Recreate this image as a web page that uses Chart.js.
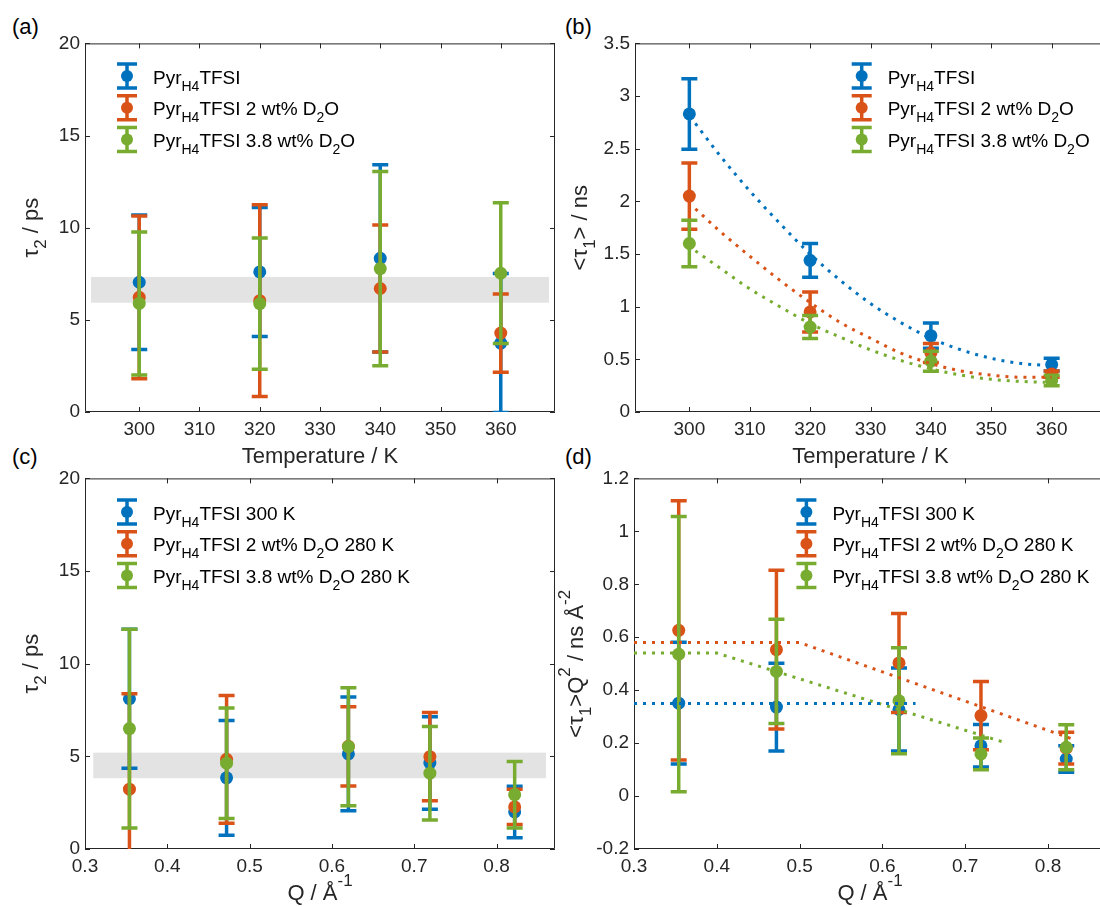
<!DOCTYPE html>
<html>
<head>
<meta charset="utf-8">
<script src="https://cdn.jsdelivr.net/npm/chart.js@4/dist/chart.umd.min.js"></script>
<style>
  body { margin: 0; background: #fff; width: 1100px; height: 907px; overflow: hidden; position: relative; }
  canvas { position: absolute; }
  .tag { position: absolute; font: 22px "Liberation Sans", Arial, sans-serif; line-height: 1; color: #000; }
</style>
</head>
<body>
<div class="tag" style="left:12px; top:16px">(a)</div>
<div class="tag" style="left:565px; top:16px">(b)</div>
<div class="tag" style="left:12px; top:446px">(c)</div>
<div class="tag" style="left:565px; top:446px">(d)</div>
<canvas id="pa"></canvas>
<canvas id="pb"></canvas>
<canvas id="pc"></canvas>
<canvas id="pd"></canvas>
<script>
// --- data ---
const tempK = [300, 320, 340, 360];
const qVals = [0.354, 0.472, 0.620, 0.719, 0.822];

const namesT = ['Pyr_{H4}TFSI', 'Pyr_{H4}TFSI 2 wt% D_{2}O', 'Pyr_{H4}TFSI 3.8 wt% D_{2}O'];
const namesQ = ['Pyr_{H4}TFSI 300 K', 'Pyr_{H4}TFSI 2 wt% D_{2}O 280 K', 'Pyr_{H4}TFSI 3.8 wt% D_{2}O 280 K'];

// (a) tau2 vs temperature
const tau2T_neat = [7.04, 7.60, 8.34, 3.74];
const tau2T_neatErr = [3.65, 3.5, 5.08, 3.77];
const tau2T_2wt = [6.22, 6.04, 6.70, 4.28];
const tau2T_2wtErr = [4.42, 5.2, 3.45, 2.12];
const tau2T_38wt = [5.89, 5.88, 7.78, 7.53];
const tau2T_38wtErr = [3.88, 3.56, 5.27, 3.82];
const bandA = [292, 368, 5.93, 7.33];

// (b) <tau1> vs temperature
const tau1T_neat = [2.83, 1.44, 0.725, 0.45];
const tau1T_neatErr = [0.335, 0.16, 0.12, 0.06];
const tau1T_2wt = [2.05, 0.95, 0.56, 0.36];
const tau1T_2wtErr = [0.315, 0.19, 0.09, 0.03];
const tau1T_38wt = [1.60, 0.807, 0.483, 0.30];
const tau1T_38wtErr = [0.22, 0.11, 0.095, 0.05];
const fitT = [301, 305, 310, 315, 320, 325, 330, 335, 340, 345, 350, 355, 360];
const fitT_neat = [2.74, 2.44, 2.10, 1.79, 1.50, 1.25, 1.03, 0.85, 0.70, 0.59, 0.51, 0.46, 0.44];
const fitT_2wt = [1.93, 1.72, 1.48, 1.25, 1.04, 0.85, 0.70, 0.56, 0.46, 0.39, 0.35, 0.33, 0.33];
const fitT_38wt = [1.53, 1.37, 1.17, 1.00, 0.84, 0.71, 0.59, 0.49, 0.41, 0.35, 0.31, 0.29, 0.28];

// (c) tau2 vs Q
const tau2Q_neat = [8.11, 3.84, 5.13, 4.64, 2.00];
const tau2Q_neatErr = [3.75, 3.1, 3.07, 2.5, 1.39];
const tau2Q_2wt = [3.23, 4.84, 5.54, 4.98, 2.27];
const tau2Q_2wtErr = [5.15, 3.45, 2.14, 2.38, 0.95];
const tau2Q_38wt = [6.50, 4.63, 5.52, 4.09, 2.93];
const tau2Q_38wtErr = [5.36, 2.98, 3.18, 2.52, 1.79];
const bandC = [0.31, 0.86, 3.82, 5.20];

// (d) <tau1>Q^2 vs Q
const tau1Q2_neat = [0.351, 0.336, 0.327, 0.19, 0.14];
const tau1Q2_neatErr = [0.23, 0.166, 0.157, 0.08, 0.05];
const tau1Q2_2wt = [0.626, 0.553, 0.503, 0.304, 0.181];
const tau1Q2_2wtErr = [0.49, 0.30, 0.187, 0.129, 0.06];
const tau1Q2_38wt = [0.536, 0.471, 0.36, 0.159, 0.184];
const tau1Q2_38wtErr = [0.52, 0.197, 0.2, 0.06, 0.085];
const fitQ_neatX = [0.3, 0.64], fitQ_neat = [0.35, 0.35];
const fitQ_2wtX = [0.3, 0.5, 0.83], fitQ_2wt = [0.58, 0.58, 0.215];
const fitQ_38wtX = [0.3, 0.4, 0.75], fitQ_38wt = [0.54, 0.54, 0.20];

// tick values
const ticksT = [300, 310, 320, 330, 340, 350, 360];
const ticksQ = [0.3, 0.4, 0.5, 0.6, 0.7, 0.8];
const ticksTau2 = [0, 5, 10, 15, 20];
const ticksTau1 = [0, 0.5, 1, 1.5, 2, 2.5, 3, 3.5];
const ticksTau1Q2 = [-0.2, 0, 0.2, 0.4, 0.6, 0.8, 1, 1.2];

const colors = ['#0072BD', '#D95319', '#77AC30'];
const FONT = '"Liberation Sans", Arial, sans-serif';
const INK = '#262626';

// --- helpers ---
function pts(xs, ys) { return xs.map((x, i) => ({ x: x, y: ys[i] })); }

function parseRich(str) {
    const segs = [];
    const re = /([_^])\{([^}]*)\}|([^_^]+)/g;
    let m;
    while ((m = re.exec(str))) {
        if (m[3]) segs.push({ t: m[3], k: 0 });
        else segs.push({ t: m[2], k: m[1] === '_' ? 1 : -1 });
    }
    return segs;
}

function drawRich(ctx, str, x, y, size, align) {
    const segs = parseRich(str);
    const small = Math.round(size * 0.76);
    let w = 0;
    segs.forEach(s => {
        ctx.font = (s.k ? small : size) + 'px ' + FONT;
        s.w = ctx.measureText(s.t).width;
        w += s.w;
    });
    let cx = align === 'center' ? x - w / 2 : x;
    ctx.textAlign = 'left';
    ctx.textBaseline = 'alphabetic';
    segs.forEach(s => {
        ctx.font = (s.k ? small : size) + 'px ' + FONT;
        const dy = s.k === 1 ? size * 0.38 : (s.k === -1 ? -size * 0.6 : 0);
        ctx.fillText(s.t, cx, y + dy);
        cx += s.w;
    });
}

function errSet(xs, ys, errs, i, order) {
    return {
        label: 's' + i,
        data: pts(xs, ys),
        errors: errs,
        backgroundColor: colors[i],
        borderColor: colors[i],
        pointRadius: 6.5,
        pointHoverRadius: 6.5,
        pointBorderWidth: 0,
        showLine: false,
        order: order
    };
}

function fitSet(xs, ys, i, smooth) {
    return {
        type: 'line',
        data: pts(xs, ys),
        borderColor: colors[i],
        borderWidth: 3,
        borderDash: [3, 6],
        pointRadius: 0,
        fill: false,
        cubicInterpolationMode: smooth ? 'monotone' : 'default',
        tension: 0,
        order: 0
    };
}

const errorBars = {
    id: 'errorBars',
    beforeDatasetDraw(chart, args) {
        const ds = chart.data.datasets[args.index];
        if (!ds.errors) return;
        const ctx = chart.ctx, a = chart.chartArea;
        const xs = chart.scales.x, ys = chart.scales.y;
        ctx.save();
        ctx.beginPath();
        ctx.rect(a.left, a.top, a.width, a.height);
        ctx.clip();
        ctx.strokeStyle = ds.borderColor;
        ctx.lineWidth = 3.5;
        ds.data.forEach((p, i) => {
            const e = ds.errors[i];
            const x = xs.getPixelForValue(p.x);
            const y0 = ys.getPixelForValue(p.y - e), y1 = ys.getPixelForValue(p.y + e);
            ctx.beginPath();
            ctx.moveTo(x, y0); ctx.lineTo(x, y1);
            ctx.moveTo(x - 8, y0); ctx.lineTo(x + 8, y0);
            ctx.moveTo(x - 8, y1); ctx.lineTo(x + 8, y1);
            ctx.stroke();
        });
        ctx.restore();
    }
};

const frame = {
    id: 'frame',
    beforeDatasetsDraw(chart, args, opts) {
        const ctx = chart.ctx, a = chart.chartArea;
        const xs = chart.scales.x, ys = chart.scales.y;
        ctx.save();
        if (opts.band) {
            const b = opts.band;
            const x0 = xs.getPixelForValue(b[0]), x1 = xs.getPixelForValue(b[1]);
            const y0 = ys.getPixelForValue(b[2]), y1 = ys.getPixelForValue(b[3]);
            ctx.fillStyle = '#e3e3e3';
            ctx.fillRect(x0, y1, x1 - x0, y0 - y1);
        }
        ctx.strokeStyle = INK;
        ctx.lineWidth = 1;
        ctx.beginPath();
        ctx.rect(a.left + 0.5, a.top + 0.5, a.width - 1, a.height - 1);
        xs.ticks.forEach(t => {
            const x = Math.round(xs.getPixelForValue(t.value)) + 0.5;
            ctx.moveTo(x, a.bottom); ctx.lineTo(x, a.bottom - 5);
            ctx.moveTo(x, a.top); ctx.lineTo(x, a.top + 5);
        });
        ys.ticks.forEach(t => {
            const y = Math.round(ys.getPixelForValue(t.value)) + 0.5;
            ctx.moveTo(a.left, y); ctx.lineTo(a.left + 5, y);
            ctx.moveTo(a.right, y); ctx.lineTo(a.right - 5, y);
        });
        ctx.stroke();
        ctx.restore();
    },
    afterDraw(chart, args, opts) {
        const ctx = chart.ctx, a = chart.chartArea;
        ctx.save();
        ctx.fillStyle = INK;
        drawRich(ctx, opts.xTitle, (a.left + a.right) / 2, a.bottom + 50.5, 22, 'center');
        ctx.save();
        ctx.translate(a.left - opts.yOff, (a.top + a.bottom) / 2);
        ctx.rotate(-Math.PI / 2);
        drawRich(ctx, opts.yTitle, 0, 0, 22, 'center');
        ctx.restore();
        // legend
        const lg = opts.legend;
        lg.names.forEach((n, i) => {
            const cx = a.left + lg.x, cy = a.top + lg.y + i * 31.7;
            ctx.strokeStyle = colors[i];
            ctx.fillStyle = colors[i];
            ctx.lineWidth = 3.5;
            ctx.beginPath();
            ctx.moveTo(cx, cy - 12); ctx.lineTo(cx, cy + 12);
            ctx.moveTo(cx - 10, cy - 12); ctx.lineTo(cx + 10, cy - 12);
            ctx.moveTo(cx - 10, cy + 12); ctx.lineTo(cx + 10, cy + 12);
            ctx.stroke();
            ctx.beginPath();
            ctx.arc(cx, cy, 6, 0, Math.PI * 2);
            ctx.fill();
            ctx.fillStyle = '#000';
            drawRich(ctx, n, cx + 26, cy + 7.5, 19, 'left');
        });
        ctx.restore();
    }
};

function makePanel(id, box, p) {
    const cv = document.getElementById(id);
    const W = box.r - box.l + 90, H = box.b - box.t + 76;
    cv.width = W; cv.height = H;
    cv.style.width = W + 'px'; cv.style.height = H + 'px';
    cv.style.left = (box.l - 80) + 'px';
    cv.style.top = (box.t - 14) + 'px';
    const tickFont = { family: FONT, size: 19 };
    new Chart(cv, {
        type: 'scatter',
        data: { datasets: p.datasets },
        options: {
            responsive: false,
            animation: false,
            events: [],
            layout: { padding: { top: 14, right: 10, left: 0, bottom: 0 } },
            plugins: {
                legend: { display: false },
                tooltip: { enabled: false },
                frame: { band: p.band, xTitle: p.xTitle, yTitle: p.yTitle, yOff: p.yOff, legend: p.legend }
            },
            scales: {
                x: {
                    type: 'linear', min: p.xMin, max: p.xMax,
                    afterFit: s => { s.height = 62; },
                    afterBuildTicks: s => { s.ticks = p.xTicks.map(v => ({ value: v })); },
                    grid: { display: false, drawTicks: false },
                    border: { display: false },
                    ticks: { padding: 6, font: tickFont, color: INK, maxRotation: 0, autoSkip: false, callback: v => String(v) }
                },
                y: {
                    type: 'linear', min: p.yMin, max: p.yMax,
                    afterFit: s => { s.width = 80; },
                    afterBuildTicks: s => { s.ticks = p.yTicks.map(v => ({ value: v })); },
                    grid: { display: false, drawTicks: false },
                    border: { display: false },
                    ticks: { padding: 5, font: tickFont, color: INK, autoSkip: false, callback: v => String(v) }
                }
            }
        },
        plugins: [errorBars, frame]
    });
}

makePanel('pa', { l: 85, t: 41, r: 555, b: 412 }, {
    xMin: 291, xMax: 369, yMin: 0, yMax: 20, xTicks: ticksT, yTicks: ticksTau2,
    band: bandA, xTitle: 'Temperature / K', yTitle: '\u03c4_{2} / ps', yOff: 47,
    legend: { x: 42, y: 32.6, names: namesT },
    datasets: [
        errSet(tempK, tau2T_38wt, tau2T_38wtErr, 2, 1),
        errSet(tempK, tau2T_2wt, tau2T_2wtErr, 1, 2),
        errSet(tempK, tau2T_neat, tau2T_neatErr, 0, 3)
    ]
});

makePanel('pb', { l: 635, t: 41, r: 1106, b: 412 }, {
    xMin: 291, xMax: 369, yMin: 0, yMax: 3.5, xTicks: ticksT, yTicks: ticksTau1,
    xTitle: 'Temperature / K', yTitle: '<\u03c4_{1}> / ns', yOff: 48,
    legend: { x: 226.7, y: 32.6, names: namesT },
    datasets: [
        fitSet(fitT, fitT_neat, 0, true),
        fitSet(fitT, fitT_2wt, 1, true),
        fitSet(fitT, fitT_38wt, 2, true),
        errSet(tempK, tau1T_38wt, tau1T_38wtErr, 2, 1),
        errSet(tempK, tau1T_2wt, tau1T_2wtErr, 1, 2),
        errSet(tempK, tau1T_neat, tau1T_neatErr, 0, 3)
    ]
});

makePanel('pc', { l: 85, t: 476, r: 555, b: 849 }, {
    xMin: 0.3, xMax: 0.871, yMin: 0, yMax: 20, xTicks: ticksQ, yTicks: ticksTau2,
    band: bandC, xTitle: 'Q / \u00c5^{-1}', yTitle: '\u03c4_{2} / ps', yOff: 47,
    legend: { x: 42, y: 33.6, names: namesQ },
    datasets: [
        errSet(qVals, tau2Q_38wt, tau2Q_38wtErr, 2, 1),
        errSet(qVals, tau2Q_2wt, tau2Q_2wtErr, 1, 2),
        errSet(qVals, tau2Q_neat, tau2Q_neatErr, 0, 3)
    ]
});

makePanel('pd', { l: 634, t: 476, r: 1106, b: 849 }, {
    xMin: 0.3, xMax: 0.87, yMin: -0.2, yMax: 1.2, xTicks: ticksQ, yTicks: ticksTau1Q2,
    xTitle: 'Q / \u00c5^{-1}', yTitle: '<\u03c4_{1}>Q^{2} / ns \u00c5^{-2}', yOff: 51,
    legend: { x: 172.4, y: 33.6, names: namesQ },
    datasets: [
        fitSet(fitQ_neatX, fitQ_neat, 0, false),
        fitSet(fitQ_2wtX, fitQ_2wt, 1, false),
        fitSet(fitQ_38wtX, fitQ_38wt, 2, false),
        errSet(qVals, tau1Q2_38wt, tau1Q2_38wtErr, 2, 1),
        errSet(qVals, tau1Q2_2wt, tau1Q2_2wtErr, 1, 2),
        errSet(qVals, tau1Q2_neat, tau1Q2_neatErr, 0, 3)
    ]
});
</script>
</body>
</html>
